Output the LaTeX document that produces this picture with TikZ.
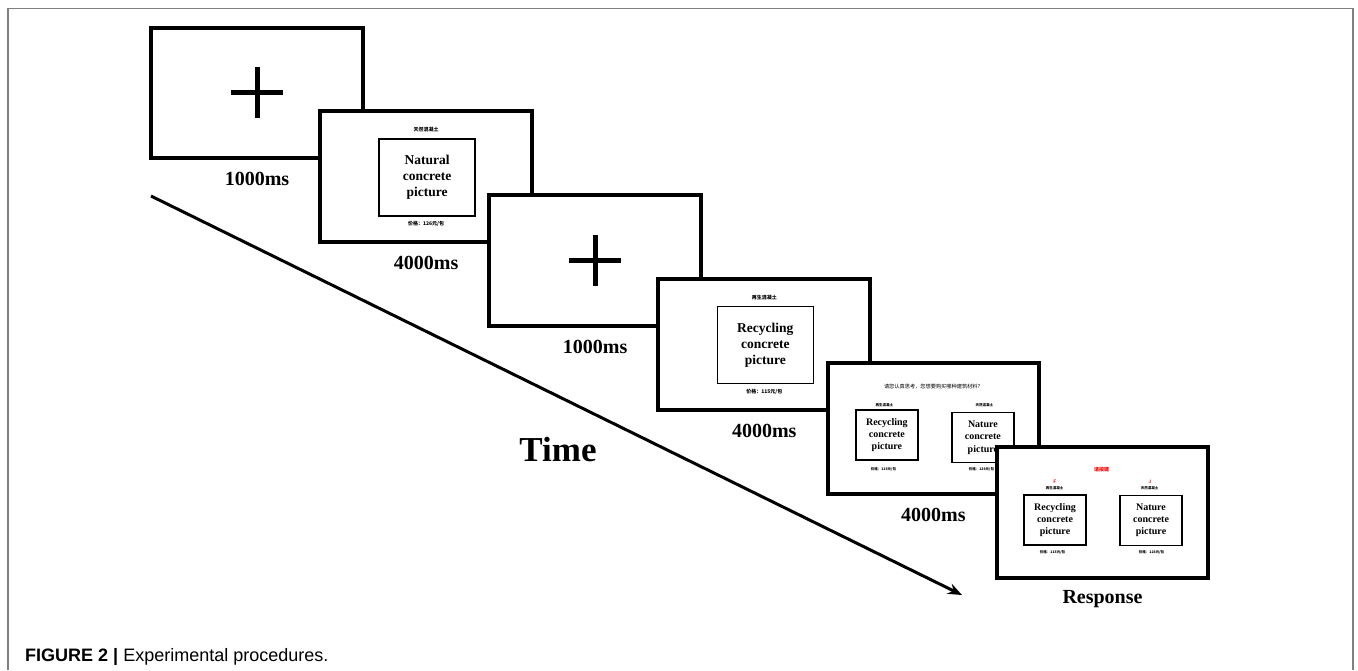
\documentclass[tikz,border=0pt]{standalone}
\usepackage{fontspec}
\setmainfont{Liberation Serif}
\newfontfamily\capfont{Liberation Sans}
\newfontfamily\cjk{Noto Sans CJK SC}
\usetikzlibrary{arrows.meta}

\begin{document}
\begin{tikzpicture}[x=1pt,y=-1pt,
    screen/.style={draw,line width=4pt,fill=white,minimum width=211.7pt,minimum height=130.8pt,inner sep=0pt},
    photo/.style={draw,line width=1.3pt,inner sep=0pt,align=center,font=\bfseries\fontsize{13.5}{16}\selectfont},
    smallphoto/.style={draw,line width=1.8pt,inner sep=0pt,align=center,minimum width=62pt,minimum height=50pt,font=\bfseries\fontsize{10}{12.3}\selectfont},
    dur/.style={font=\bfseries\fontsize{20}{24}\selectfont},
    cn/.style={inner sep=0pt,font=\cjk\bfseries\fontsize{5}{6}\selectfont},
    tinycn/.style={inner sep=0pt,font=\cjk\bfseries\fontsize{3.5}{4}\selectfont}]
  \useasboundingbox (0,0) rectangle (1358,670);
  \draw[gray,line width=1.5pt] (8,670) -- (8,8.5) -- (1353,8.5) -- (1353,670);
  % time axis
  \coordinate (tstart) at (151,196); \coordinate (tend) at (962,595);
  \draw[line width=3pt,-{Stealth[length=14pt,width=11pt]}] (tstart) -- (tend);
  \node[font=\bfseries\fontsize{35}{40}\selectfont] (time) at (558,450) {Time};
  % fixation
  \node[screen] (s1) at (257,92.9) {};
  \draw[line width=5pt] ([xshift=-26pt]s1.center) -- ([xshift=26pt]s1.center);
  \draw[line width=5pt] ([yshift=-25.5pt]s1.center) -- ([yshift=25.5pt]s1.center);
  \node[dur] (t1) at ([yshift=-19pt]s1.south) {1000ms};
  % natural concrete
  \node[screen] (s2) at (426.1,176.8) {};
  \node[photo,minimum width=96pt,minimum height=77pt] (p2) at ([shift={(1,0.7)}]s2.center) {Natural\\concrete\\picture};
  \node[cn] (n2) at ([shift={(0,-47)}]s2.center) {天然混凝土};
  \node[cn] (r2) at ([shift={(0,47)}]s2.center) {价格：126元/包};
  \node[dur] (t2) at ([yshift=-19pt]s2.south) {4000ms};
  % fixation
  \node[screen] (s3) at (595.2,260.7) {};
  \draw[line width=5pt] ([xshift=-26pt]s3.center) -- ([xshift=26pt]s3.center);
  \draw[line width=5pt] ([yshift=-25.5pt]s3.center) -- ([yshift=25.5pt]s3.center);
  \node[dur] (t3) at ([yshift=-19pt]s3.south) {1000ms};
  % recycled concrete
  \node[screen] (s4) at (764.3,344.6) {};
  \node[photo,minimum width=96pt,minimum height=77pt] (p4) at ([shift={(1,0.7)}]s4.center) {Recycling\\concrete\\picture};
  \node[cn] (n4) at ([shift={(0,-47)}]s4.center) {再生混凝土};
  \node[cn] (r4) at ([shift={(0,47)}]s4.center) {价格：115元/包};
  \node[dur] (t4) at ([yshift=-19pt]s4.south) {4000ms};
  % choice
  \node[screen] (s5) at (933.4,428.5) {};
  \node[inner sep=0pt,font=\cjk\fontsize{5.2}{6}\selectfont] (q5) at ([shift={(0,-42)}]s5.center) {请您认真思考，您想要购买哪种建筑材料？};
  \node[tinycn] (n5l) at ([shift={(-49,-23.5)}]s5.center) {再生混凝土};
  \node[tinycn] (n5r) at ([shift={(51,-23.5)}]s5.center) {天然混凝土};
  \node[smallphoto] (p5l) at ([shift={(-46.5,6.5)}]s5.center) {Recycling\\concrete\\picture};
  \node[smallphoto] (p5r) at ([shift={(49.5,9)}]s5.center) {Nature\\concrete\\picture};
  \node[tinycn] (r5l) at ([shift={(-50,40.5)}]s5.center) {价格：115元/包};
  \node[tinycn] (r5r) at ([shift={(48,40.5)}]s5.center) {价格：126元/包};
  \node[dur] (t5) at ([yshift=-19pt]s5.south) {4000ms};
  % response
  \node[screen] (s6) at (1102.5,512.4) {};
  \node[cn,red] (k6) at ([shift={(-1,-43)}]s6.center) {请按键};
  \node[inner sep=0pt,red,font=\sffamily\bfseries\fontsize{5}{6}\selectfont] (f6) at ([shift={(-47.5,-30.5)}]s6.center) {F};
  \node[inner sep=0pt,red,font=\sffamily\bfseries\fontsize{5}{6}\selectfont] (j6) at ([shift={(47.5,-30.5)}]s6.center) {J};
  \node[tinycn] (n6l) at ([shift={(-48,-24.5)}]s6.center) {再生混凝土};
  \node[tinycn] (n6r) at ([shift={(47,-24.5)}]s6.center) {天然混凝土};
  \node[smallphoto] (p6l) at ([shift={(-47.5,7.6)}]s6.center) {Recycling\\concrete\\picture};
  \node[smallphoto] (p6r) at ([shift={(48.5,8)}]s6.center) {Nature\\concrete\\picture};
  \node[tinycn] (r6l) at ([shift={(-50,39.6)}]s6.center) {价格：115元/包};
  \node[tinycn] (r6r) at ([shift={(49,39.6)}]s6.center) {价格：126元/包};
  \node[dur] (t6) at ([yshift=-19pt]s6.south) {Response};
  % caption
  \node[anchor=base west,inner sep=0pt,font=\capfont\fontsize{18}{21}\selectfont] (cap) at (25,661) {\textbf{FIGURE 2 |} Experimental procedures.};
\end{tikzpicture}
\end{document}
